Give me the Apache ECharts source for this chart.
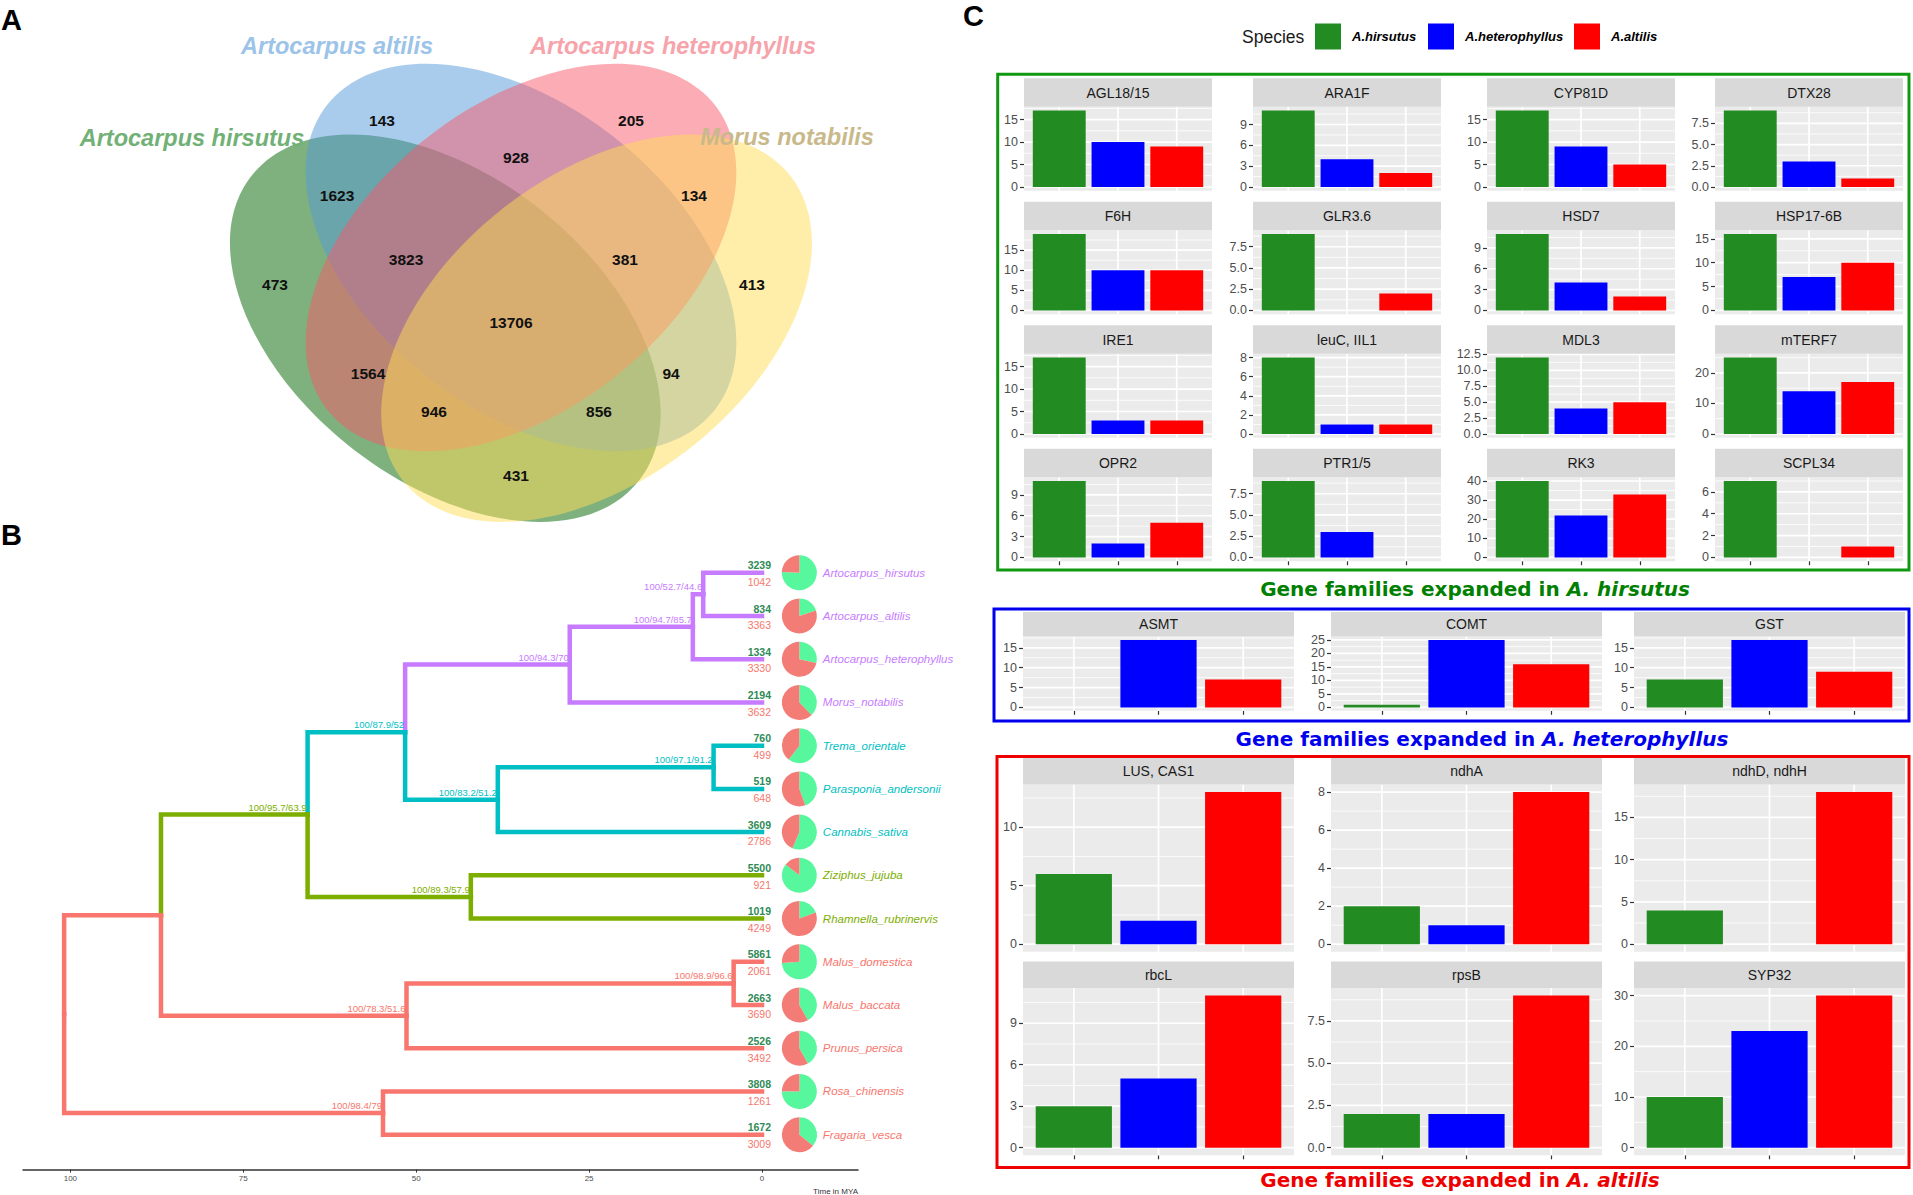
<!DOCTYPE html>
<html><head><meta charset="utf-8">
<script src="https://cdn.jsdelivr.net/npm/echarts@6/dist/echarts.min.js"></script>
<style>html,body{margin:0;padding:0;background:#fff}#c{width:1913px;height:1195px}</style>
</head><body><div id="c"></div>
<script>
// ===================== DATA =====================
// Panel A: Venn
const vennSetNames = ['Artocarpus hirsutus', 'Artocarpus altilis', 'Artocarpus heterophyllus', 'Morus notabilis'];
const vennCounts = [143, 205, 1623, 928, 134, 473, 3823, 381, 413, 13706, 1564, 94, 946, 856, 431];

// Panel B: tree
const leafNames = ['Artocarpus_hirsutus', 'Artocarpus_altilis', 'Artocarpus_heterophyllus', 'Morus_notabilis',
  'Trema_orientale', 'Parasponia_andersonii', 'Cannabis_sativa', 'Ziziphus_jujuba', 'Rhamnella_rubrinervis',
  'Malus_domestica', 'Malus_baccata', 'Prunus_persica', 'Rosa_chinensis', 'Fragaria_vesca'];
const leafGained = [3239, 834, 1334, 2194, 760, 519, 3609, 5500, 1019, 5861, 2663, 2526, 3808, 1672];
const leafLost = [1042, 3363, 3330, 3632, 499, 648, 2786, 921, 4249, 2061, 3690, 3492, 1261, 3009];
const leafClade = [3, 3, 3, 3, 2, 2, 2, 1, 1, 0, 0, 0, 0, 0];
// internal nodes: id, child A, child B, age (MYA), support, clade
const treeNodes = [
  ['n1', 'L0', 'L1', 8.5, '100/52.7/44.6', 3],
  ['n2', 'n1', 'L2', 10.0, '100/94.7/85.7', 3],
  ['n3', 'n2', 'L3', 27.8, '100/94.3/70', 3],
  ['n4', 'L4', 'L5', 7.0, '100/97.1/91.2', 2],
  ['n5', 'n4', 'L6', 38.2, '100/83.2/51.2', 2],
  ['n6', 'n3', 'n5', 51.6, '100/87.9/52', 2],
  ['n7', 'L7', 'L8', 42.1, '100/89.3/57.9', 1],
  ['n8', 'n6', 'n7', 65.7, '100/95.7/63.9', 1],
  ['n9', 'L9', 'L10', 4.1, '100/98.9/96.6', 0],
  ['n10', 'n9', 'L11', 51.4, '100/78.3/51.6', 0],
  ['n11', 'n8', 'n10', 86.9, '', 0],
  ['n12', 'L12', 'L13', 54.8, '100/98.4/79', 0],
  ['root', 'n11', 'n12', 100.9, '', 0]
];
const timeTicks = [0, 25, 50, 75, 100];

// Panel C: bars (A.hirsutus, A.heterophyllus, A.altilis)
const speciesNames = ['A.hirsutus', 'A.heterophyllus', 'A.altilis'];
const hirGenes = ['AGL18/15', 'ARA1F', 'CYP81D', 'DTX28', 'F6H', 'GLR3.6', 'HSD7', 'HSP17-6B',
  'IRE1', 'leuC, IIL1', 'MDL3', 'mTERF7', 'OPR2', 'PTR1/5', 'RK3', 'SCPL34'];
const hirSetHir = [17, 11, 17, 9, 19, 9, 11, 16, 17, 8, 12, 25, 11, 9, 40, 7];
const hirSetHet = [10, 4, 9, 3, 10, 0, 4, 7, 3, 1, 4, 14, 2, 3, 22, 0];
const hirSetAlt = [9, 2, 5, 1, 10, 2, 2, 10, 3, 1, 5, 17, 5, 0, 33, 1];
const hirTicks = [[0, 5, 10, 15], [0, 3, 6, 9], [0, 5, 10, 15], [0, 2.5, 5, 7.5], [0, 5, 10, 15], [0, 2.5, 5, 7.5],
  [0, 3, 6, 9], [0, 5, 10, 15], [0, 5, 10, 15], [0, 2, 4, 6, 8], [0, 2.5, 5, 7.5, 10, 12.5], [0, 10, 20],
  [0, 3, 6, 9], [0, 2.5, 5, 7.5], [0, 10, 20, 30, 40], [0, 2, 4, 6]];

const hetGenes = ['ASMT', 'COMT', 'GST'];
const hetSetHir = [0, 1, 7];
const hetSetHet = [17, 25, 17];
const hetSetAlt = [7, 16, 9];
const hetTicks = [[0, 5, 10, 15], [0, 5, 10, 15, 20, 25], [0, 5, 10, 15]];

const altGenes = ['LUS, CAS1', 'ndhA', 'ndhD, ndhH', 'rbcL', 'rpsB', 'SYP32'];
const altSetHir = [6, 2, 4, 3, 2, 10];
const altSetHet = [2, 1, 0, 5, 2, 23];
const altSetAlt = [13, 8, 18, 11, 9, 30];
const altTicks = [[0, 5, 10], [0, 2, 4, 6, 8], [0, 5, 10, 15], [0, 3, 6, 9], [0, 2.5, 5, 7.5], [0, 10, 20, 30]];

// ===================== STYLE / LAYOUT =====================
const F = 'Liberation Sans';
const cladeColors = ['#F8766D', '#7CAE00', '#00BFC4', '#C77CFF'];
const speciesColors = ['#228B22', '#0000FF', '#FF0000'];
const vennFill = ['rgba(0,100,0,0.5)', 'rgba(85,153,217,0.5)', 'rgba(247,89,105,0.5)', 'rgba(255,221,85,0.5)'];
const vennLabelColor = ['#72B176', '#9CC3E8', '#F7A3AB', '#C9B98A'];
const vennEll = [[445.3, 328.2, -1], [521, 257.4, -1], [521, 257.4, 1], [596.6, 328.2, 1]];
const vennA = 258.3, vennB = 161.4, vennK = 0.9;
const vennSetLabelPos = [[192, 138], [337, 46], [673, 46], [787, 137]];
const vennCountPos = [[382, 120], [631, 120], [337, 195], [516, 157], [694, 195], [275, 284], [406, 259], [625, 259],
  [752, 284], [511, 322], [368, 373], [671, 373], [434, 411], [599, 411], [516, 475]];

function T(x, y, text, o) {
  o = o || {};
  return {
    type: 'text', x: x, y: y, z: o.z || 10, silent: true,
    style: {
      text: text, fill: o.fill || '#000', fontSize: o.size || 12, fontFamily: o.family || F,
      fontWeight: o.weight || 'normal', fontStyle: o.style || 'normal',
      align: o.align || 'left', verticalAlign: o.va || 'middle',
      textAlign: o.align || 'left', textVerticalAlign: o.va || 'middle'
    }
  };
}

const graphics = [];
// panel letters
graphics.push(T(1, 20, 'A', {size: 29, weight: 'bold'}));
graphics.push(T(1, 535, 'B', {size: 29, weight: 'bold'}));
graphics.push(T(963, 16, 'C', {size: 29, weight: 'bold'}));

// Venn ellipses
vennEll.forEach((e, i) => {
  graphics.push({
    type: 'group', x: e[0], y: e[1], scaleY: vennK, z: 1, silent: true,
    children: [{type: 'ellipse', shape: {cx: 0, cy: 0, rx: vennA, ry: vennB}, rotation: e[2] * Math.PI / 4,
      style: {fill: vennFill[i]}, z: 1}]
  });
});
vennSetNames.forEach((n, i) => {
  graphics.push(T(vennSetLabelPos[i][0], vennSetLabelPos[i][1], n,
    {size: 23.5, weight: 'bold', style: 'italic', fill: vennLabelColor[i], align: 'center'}));
});
vennCounts.forEach((c, i) => {
  graphics.push(T(vennCountPos[i][0], vennCountPos[i][1], String(c), {size: 15.5, weight: 'bold', fill: '#111', align: 'center'}));
});

// Tree axis title
graphics.push(T(858, 1191, 'Time in MYA', {size: 8, fill: '#333', align: 'right'}));

// Legend for panel C
graphics.push(T(1242, 36.6, 'Species', {size: 17.5, fill: '#1A1A1A'}));
const legKeyX = [1315, 1428, 1574];
speciesNames.forEach((s, i) => {
  graphics.push({type: 'rect', shape: {x: legKeyX[i], y: 23.5, width: 26, height: 26}, style: {fill: speciesColors[i]}, z: 10, silent: true});
  graphics.push(T(legKeyX[i] + 37, 36.6, s, {size: 13, weight: 'bold', style: 'italic', fill: '#000'}));
});

// Boxes and titles
const boxes = [
  {x: 997.7, y: 74.3, w: 911.3, h: 495.7, col: '#109910', tcol: '#008000', tx: 1475, ty: 589, sp: 'A. hirsutus'},
  {x: 994, y: 609, w: 915, h: 112, col: '#0000EE', tcol: '#0000EE', tx: 1482, ty: 739, sp: 'A. heterophyllus'},
  {x: 997, y: 756.4, w: 912, h: 411, col: '#EE0000', tcol: '#EE0000', tx: 1460, ty: 1180, sp: 'A. altilis'}
];
boxes.forEach(b => {
  graphics.push({type: 'rect', shape: {x: b.x, y: b.y, width: b.w, height: b.h}, style: {fill: 'none', stroke: b.col, lineWidth: 3}, z: 10, silent: true});
  graphics.push({
    type: 'text', x: b.tx, y: b.ty, z: 10, silent: true,
    style: {
      text: '{a|Gene families expanded in }{b|' + b.sp + '}',
      rich: {
        a: {fontSize: 20, fontWeight: 'bold', fontFamily: 'DejaVu Sans', fill: b.tcol, color: b.tcol},
        b: {fontSize: 20, fontWeight: 'bold', fontStyle: 'italic', fontFamily: 'DejaVu Sans', fill: b.tcol, color: b.tcol}
      },
      align: 'center', verticalAlign: 'middle', textAlign: 'center', textVerticalAlign: 'middle'
    }
  });
});

// ===================== CHART OPTION =====================
const grids = [], xAxes = [], yAxes = [], series = [];

// ---- Tree (grid 0)
grids.push({left: 23, top: 529.5, width: 835, height: 640.1, show: false});
xAxes.push({
  gridIndex: 0, type: 'value', inverse: true, min: -13.88, max: 106.85, position: 'bottom',
  axisLine: {show: true, onZero: false, lineStyle: {color: '#333', width: 1.5}},
  axisTick: {show: true, customValues: timeTicks, length: 3, lineStyle: {color: '#333', width: 1}},
  axisLabel: {customValues: timeTicks, fontSize: 8, color: '#4D4D4D', fontFamily: F, margin: 5},
  splitLine: {show: false}
});
yAxes.push({gridIndex: 0, type: 'value', inverse: true, min: -1, max: 13.807, show: false});

const nodeInfo = {};
leafNames.forEach((n, i) => { nodeInfo['L' + i] = {age: 0, y: i, clade: leafClade[i]}; });
treeNodes.forEach(nd => {
  const a = nodeInfo[nd[1]], b = nodeInfo[nd[2]];
  nodeInfo[nd[0]] = {age: nd[3], y: (a.y + b.y) / 2, clade: nd[5], support: nd[4]};
});
const edgeData = [];
treeNodes.forEach(nd => {
  const p = nodeInfo[nd[0]];
  [nd[1], nd[2]].forEach(cid => {
    const c = nodeInfo[cid];
    edgeData.push([p.age, c.age, p.y, c.y, c.clade]);
  });
});
series.push({
  type: 'custom', xAxisIndex: 0, yAxisIndex: 0, silent: true, z: 3,
  data: edgeData,
  renderItem: (params, api) => {
    const pa = api.value(0), ca = api.value(1), py = api.value(2), cy = api.value(3), cl = api.value(4);
    const p0 = api.coord([pa, py]), p1 = api.coord([pa, cy]), p2 = api.coord([ca, cy]);
    return {type: 'polyline', shape: {points: [p0, p1, p2]},
      style: {stroke: cladeColors[cl], lineWidth: 4.5, fill: 'none', lineJoin: 'miter', lineCap: 'square'}};
  }
});
const supportData = treeNodes.filter(nd => nd[4]).map(nd => [nodeInfo[nd[0]].age, nodeInfo[nd[0]].y, nd[5], nd[4]]);
series.push({
  type: 'custom', xAxisIndex: 0, yAxisIndex: 0, silent: true, z: 4,
  data: supportData,
  renderItem: (params, api) => {
    const d = supportData[params.dataIndex];
    const p = api.coord([d[0], d[1]]);
    return {type: 'text', x: p[0] - 1, y: p[1] - 2.5,
      style: {text: d[3], fill: cladeColors[d[2]], fontSize: 9.5, fontFamily: F,
        align: 'right', verticalAlign: 'bottom', textAlign: 'right', textVerticalAlign: 'bottom'}};
  }
});
const PIE_R = 17.5, PIE_X = -5.4;
series.push({
  type: 'custom', xAxisIndex: 0, yAxisIndex: 0, silent: true, z: 4,
  data: leafNames.map((n, i) => [i, leafGained[i], leafLost[i]]),
  renderItem: (params, api) => {
    const i = api.value(0), g = api.value(1), l = api.value(2);
    const tip = api.coord([0, i]);
    const pc = api.coord([PIE_X, i]);
    const a0 = -Math.PI / 2, a1 = a0 + 2 * Math.PI * g / (g + l);
    return {type: 'group', children: [
      {type: 'text', x: tip[0] + 9, y: tip[1] - 7.4, style: {text: String(g), fill: '#2E8B57', fontSize: 10.5, fontWeight: 'bold', fontFamily: F,
        align: 'right', verticalAlign: 'middle', textAlign: 'right', textVerticalAlign: 'middle'}},
      {type: 'text', x: tip[0] + 9, y: tip[1] + 9.3, style: {text: String(l), fill: '#F8766D', fontSize: 10.5, fontFamily: F,
        align: 'right', verticalAlign: 'middle', textAlign: 'right', textVerticalAlign: 'middle'}},
      {type: 'sector', shape: {cx: pc[0], cy: pc[1], r: PIE_R, r0: 0, startAngle: a0, endAngle: a1, clockwise: true}, style: {fill: '#57F79E'}},
      {type: 'sector', shape: {cx: pc[0], cy: pc[1], r: PIE_R, r0: 0, startAngle: a1, endAngle: a0 + 2 * Math.PI, clockwise: true}, style: {fill: '#F47C77'}},
      {type: 'text', x: pc[0] + PIE_R + 6, y: pc[1], style: {text: leafNames[i], fill: cladeColors[leafClade[i]], fontSize: 11.5, fontStyle: 'italic', fontFamily: F,
        align: 'left', verticalAlign: 'middle', textAlign: 'left', textVerticalAlign: 'middle'}}
    ]};
  }
});

// ---- Facets
function addFacet(name, vals, ticks, left, stripTop, width, stripH, plotH, showX) {
  const gi = grids.length;
  const top = stripTop + stripH;
  grids.push({left: left, top: top, width: width, height: plotH, show: true, backgroundColor: '#EBEBEB', borderWidth: 0});
  const vmax = Math.max.apply(null, vals);
  const ymin = -0.05 * vmax, ymax = 1.05 * vmax;
  const dec = ticks.some(v => v % 1 !== 0);
  xAxes.push({gridIndex: gi, type: 'value', min: -0.6, max: 2.6,
    axisLine: {show: false, onZero: false}, splitLine: {show: false}, axisLabel: {show: false},
    axisTick: {show: showX, customValues: [0, 1, 2], length: 4, lineStyle: {color: '#333', width: 1.2}}});
  yAxes.push({gridIndex: gi, type: 'value', min: ymin, max: ymax,
    axisLine: {show: false, onZero: false}, splitLine: {show: false},
    axisTick: {show: true, customValues: ticks, length: 4, lineStyle: {color: '#333', width: 1.2}},
    axisLabel: {customValues: ticks, formatter: v => dec ? Number(v).toFixed(1) : String(v),
      color: '#4D4D4D', fontSize: 12.5, fontFamily: F, margin: 6}});
  // grid lines
  const step = ticks[1] - ticks[0];
  const gl = [];
  ticks.forEach(t => gl.push([0, t]));
  for (let k = 0; k < ticks.length - 1; k++) gl.push([1, (ticks[k] + ticks[k + 1]) / 2]);
  if (ticks[ticks.length - 1] + step / 2 <= ymax) gl.push([1, ticks[ticks.length - 1] + step / 2]);
  [0, 1, 2].forEach(c => gl.push([2, c]));
  series.push({
    type: 'custom', xAxisIndex: gi, yAxisIndex: gi, silent: true, z: 1, data: gl,
    renderItem: (params, api) => {
      const k = api.value(0), v = api.value(1);
      let p0, p1;
      if (k === 2) { p0 = api.coord([v, ymin]); p1 = api.coord([v, ymax]); }
      else { p0 = api.coord([-0.6, v]); p1 = api.coord([2.6, v]); }
      return {type: 'line', shape: {x1: p0[0], y1: p0[1], x2: p1[0], y2: p1[1]},
        style: {stroke: '#FFFFFF', lineWidth: k === 1 ? 0.8 : 1.7}};
    }
  });
  series.push({
    type: 'custom', xAxisIndex: gi, yAxisIndex: gi, silent: true, z: 2,
    data: vals.map((v, i) => [i, v]),
    renderItem: (params, api) => {
      const x = api.value(0), v = api.value(1);
      if (!v) return null;
      const p0 = api.coord([x - 0.45, v]), p1 = api.coord([x + 0.45, 0]);
      return {type: 'rect', shape: {x: p0[0], y: p0[1], width: p1[0] - p0[0], height: p1[1] - p0[1]},
        style: {fill: speciesColors[x]}};
    }
  });
  // strip
  graphics.push({type: 'rect', shape: {x: left, y: stripTop, width: width, height: stripH}, style: {fill: '#D9D9D9'}, z: 5, silent: true});
  graphics.push(T(left + width / 2, stripTop + stripH / 2, name, {size: 14, fill: '#1A1A1A', align: 'center', z: 6}));
}

const hirCols = [1024, 1253, 1487, 1715], hirRows = [78.3, 201.7, 325.3, 448.7];
hirGenes.forEach((g, i) => {
  const r = Math.floor(i / 4), c = i % 4;
  addFacet(g, [hirSetHir[i], hirSetHet[i], hirSetAlt[i]], hirTicks[i], hirCols[c], hirRows[r], 188, 28.5, 84, r === 3);
});
const wideCols = [1023, 1331, 1634];
hetGenes.forEach((g, i) => {
  addFacet(g, [hetSetHir[i], hetSetHet[i], hetSetAlt[i]], hetTicks[i], wideCols[i], 612, 271, 24.5, 74.3, true);
});
const altRows = [758, 961.5];
altGenes.forEach((g, i) => {
  const r = Math.floor(i / 3), c = i % 3;
  addFacet(g, [altSetHir[i], altSetHet[i], altSetAlt[i]], altTicks[i], wideCols[c], altRows[r], 271, 26.5, 167.3, r === 1);
});

const chart = echarts.init(document.getElementById('c'), null, {renderer: 'svg', width: 1913, height: 1195});
chart.setOption({
  animation: false,
  backgroundColor: '#FFFFFF',
  grid: grids, xAxis: xAxes, yAxis: yAxes, series: series,
  graphic: {elements: graphics}
});
</script>
</body></html>
